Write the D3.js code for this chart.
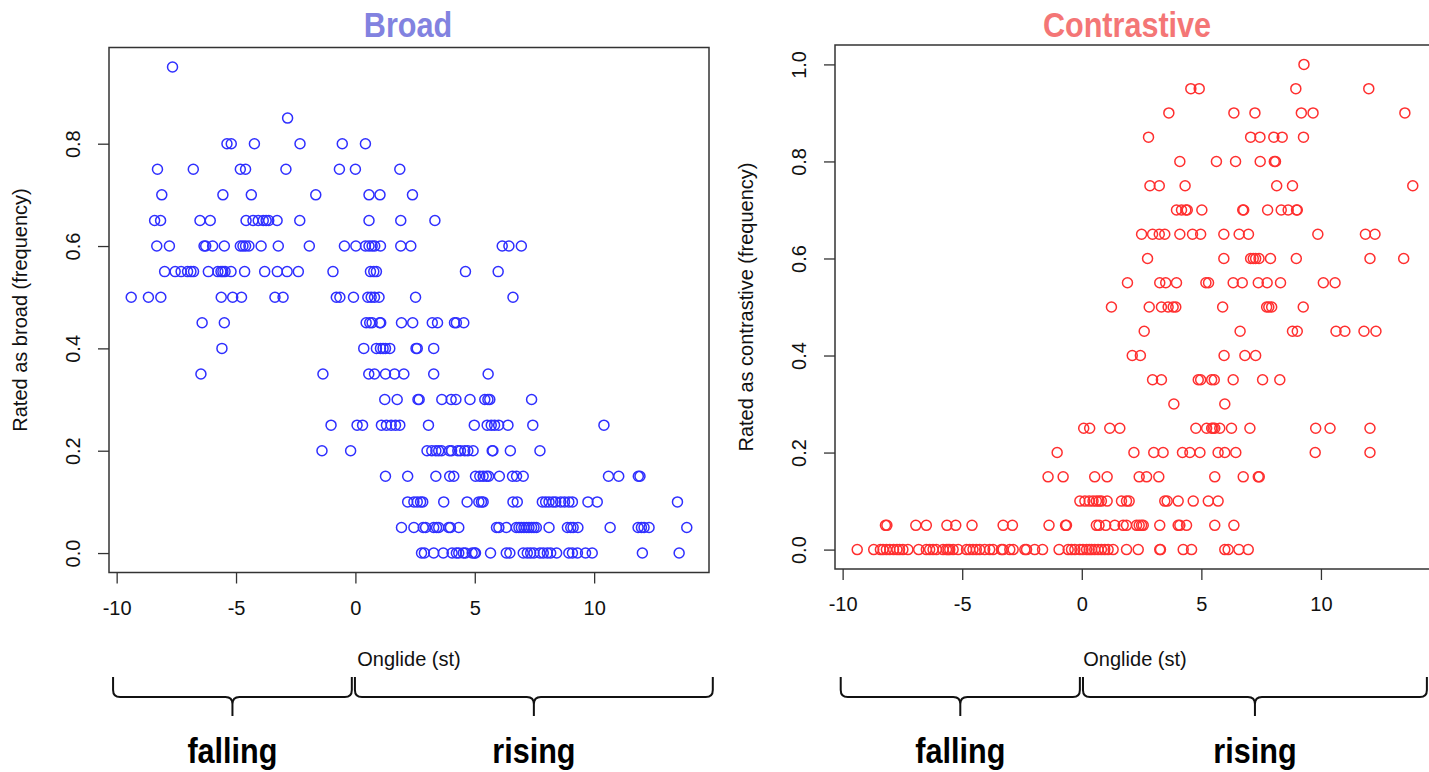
<!DOCTYPE html>
<html>
<head>
<meta charset="utf-8">
<script src="https://cdn.jsdelivr.net/npm/d3@7"></script>
<style>
  body { margin: 0; background: #fff; }
  svg { display: block; }
  text { font-family: "Liberation Sans", Arial, Helvetica, sans-serif; fill: #111; }
  .title, .brace-label {
    font-family: "Liberation Sans Narrow", "Arial Narrow", "Liberation Sans", sans-serif;
    font-weight: bold;
  }
</style>
</head>
<body>
<svg id="chart" width="1429" height="772"></svg>
<script>
// rating levels (frequency) and the onglide values (st) of the points sitting on each level
const broadLevels = [0.95, 0.85, 0.80, 0.75, 0.70, 0.65, 0.60, 0.55, 0.50, 0.45, 0.40, 0.35, 0.30, 0.25, 0.20, 0.15, 0.10, 0.05, 0.00];
const broadOnglide = [
  [-7.66],
  [-2.84],
  [-5.38, -5.20, -4.23, -2.32, -0.55, 0.42],
  [-8.29, -6.79, -4.82, -4.60, -2.91, -0.67, 0.00, 1.86],
  [-8.11, -5.55, -4.36, -1.66, 0.57, 1.03, 2.39],
  [-8.41, -8.16, -6.51, -6.08, -4.58, -4.29, -4.07, -3.86, -3.74, -3.63, -3.28, -2.33, 0.57, 1.90, 3.33],
  [-8.32, -7.79, -6.34, -6.27, -5.98, -5.49, -4.82, -4.71, -4.60, -4.46, -3.95, -3.23, -1.93, -0.46, 0.02,
   0.42, 0.57, 0.70, 0.81, 1.05, 1.90, 2.32, 6.15, 6.43, 6.95],
  [-7.99, -7.55, -7.30, -7.03, -6.89, -6.78, -6.16, -5.76, -5.63, -5.55, -5.46, -5.21, -4.64, -3.80, -3.27,
   -2.86, -2.39, -0.94, 0.63, 0.77, 0.88, 4.61, 5.98],
  [-9.39, -8.67, -8.15, -5.62, -5.14, -4.77, -3.37, -3.03, -0.80, -0.65, -0.08, 0.52, 0.66, 0.80, 0.99, 2.52, 6.60],
  [-6.42, -5.49, 0.45, 0.60, 0.70, 1.02, 1.06, 1.93, 2.40, 3.22, 3.44, 4.15, 4.23, 4.54],
  [-5.59, 0.35, 0.88, 1.05, 1.16, 1.26, 1.44, 2.54, 2.59, 3.28],
  [-6.47, -1.36, 0.56, 0.80, 1.26, 1.64, 2.03, 3.28, 5.56],
  [1.23, 1.75, 2.62, 2.67, 3.62, 4.01, 4.21, 4.80, 5.42, 5.55, 5.63, 7.38],
  [-1.02, 0.07, 0.30, 1.09, 1.30, 1.50, 1.68, 1.86, 3.06, 4.98, 5.52, 5.69, 5.83, 6.00, 6.39, 7.43, 10.41],
  [-1.40, -0.20, 3.00, 3.20, 3.37, 3.49, 3.61, 3.94, 4.03, 4.29, 4.40, 4.58, 4.71, 4.93, 5.73, 5.76, 6.49, 7.73],
  [1.26, 2.19, 3.37, 3.95, 4.12, 5.03, 5.21, 5.35, 5.49, 5.58, 6.03, 6.58, 6.75, 7.03, 10.60, 11.03, 11.85, 11.92],
  [2.19, 2.45, 2.59, 2.73, 2.82, 3.70, 4.68, 5.17, 5.28, 5.35, 6.60, 6.78, 7.83, 7.97, 8.11, 8.27, 8.39, 8.60,
   8.76, 8.94, 9.09, 9.74, 10.13, 13.49],
  [1.93, 2.45, 2.84, 2.94, 3.28, 3.40, 3.49, 3.91, 3.98, 4.33, 5.91, 6.01, 6.32, 6.74, 6.85, 6.95, 7.06, 7.17,
   7.27, 7.38, 7.48, 7.58, 8.11, 8.88, 9.02, 9.12, 9.32, 10.67, 11.84, 11.98, 12.09, 12.30, 13.88],
  [2.77, 2.89, 3.28, 3.68, 4.05, 4.23, 4.33, 4.52, 4.61, 4.89, 4.99, 5.03, 5.66, 6.32, 6.47, 7.03, 7.20, 7.34,
   7.48, 7.73, 7.87, 8.04, 8.18, 8.43, 8.94, 9.09, 9.30, 9.64, 9.92, 12.02, 13.56]
];

const contrLevels = [1.00, 0.95, 0.90, 0.85, 0.80, 0.75, 0.70, 0.65, 0.60, 0.55, 0.50, 0.45, 0.40, 0.35, 0.30, 0.25, 0.20, 0.15, 0.10, 0.05, 0.00];
const contrOnglide = [
  [9.29],
  [4.56, 4.91, 8.95, 12.00],
  [3.64, 6.36, 7.24, 9.18, 9.67, 13.51],
  [2.79, 7.06, 7.45, 8.03, 8.38, 9.27],
  [4.10, 5.63, 6.43, 7.46, 8.05, 8.10],
  [2.85, 3.24, 4.32, 8.15, 8.81, 13.84],
  [3.96, 4.17, 4.35, 4.41, 5.02, 6.73, 6.77, 7.77, 8.34, 8.63, 8.98, 9.01],
  [2.50, 2.96, 3.24, 3.47, 4.10, 4.63, 4.97, 5.94, 6.58, 6.97, 9.87, 11.86, 12.26],
  [2.75, 5.94, 7.06, 7.17, 7.27, 7.41, 7.89, 8.97, 12.05, 13.46],
  [1.91, 3.26, 3.51, 3.96, 5.19, 5.30, 6.33, 6.71, 7.38, 7.75, 8.31, 10.10, 10.59],
  [1.24, 2.82, 3.33, 3.61, 3.82, 3.93, 5.89, 7.73, 7.82, 7.94, 9.26],
  [2.61, 6.62, 8.81, 9.01, 10.63, 11.00, 11.80, 12.30],
  [2.11, 2.45, 5.95, 6.82, 7.27],
  [2.96, 3.33, 4.87, 4.97, 5.43, 5.54, 6.33, 7.56, 8.28],
  [3.85, 5.98],
  [0.08, 0.33, 1.17, 1.59, 4.77, 5.22, 5.43, 5.49, 5.56, 5.77, 6.26, 7.03, 9.78, 10.38, 12.05],
  [-1.03, 2.18, 3.01, 3.40, 4.21, 4.52, 4.94, 5.70, 5.98, 6.44, 9.76, 12.05],
  [-1.41, -0.78, 0.54, 1.06, 2.40, 2.71, 3.22, 5.56, 6.75, 7.38, 7.42],
  [-0.08, 0.13, 0.31, 0.47, 0.61, 0.72, 0.82, 1.06, 1.66, 1.87, 1.98, 3.47, 3.57, 4.03, 4.66, 5.29, 5.70],
  [-8.21, -8.15, -6.94, -6.50, -5.64, -5.27, -4.59, -3.29, -2.90, -1.37, -0.68, -0.64, 0.61, 0.72, 1.00, 1.38,
   1.73, 1.87, 2.29, 2.40, 2.50, 2.57, 3.26, 4.03, 4.10, 4.38, 5.56, 6.36],
  [-9.39, -8.70, -8.42, -8.31, -8.17, -8.03, -7.87, -7.73, -7.62, -7.48, -7.27, -6.82, -6.50, -6.36, -6.22,
   -6.08, -5.80, -5.66, -5.59, -5.52, -5.38, -5.17, -4.82, -4.69, -4.55, -4.41, -4.27, -4.06, -3.85, -3.71,
   -3.36, -3.29, -3.01, -2.87, -2.38, -2.31, -1.97, -1.64, -0.95, -0.57, -0.43, -0.29, -0.08, 0.05, 0.20,
   0.31, 0.41, 0.54, 0.68, 0.82, 0.96, 1.10, 1.31, 1.87, 2.36, 3.26, 3.29, 4.24, 4.59, 5.98, 6.12, 6.57, 6.96]
];

const xTicks = [-10, -5, 0, 5, 10];
const broadYTicks = [0, 0.2, 0.4, 0.6, 0.8];
const contrYTicks = [0, 0.2, 0.4, 0.6, 0.8, 1.0];

// the two braces under each panel (onglide units)
const braceLabels = ['falling', 'rising'];
const broadBraces = [[-10.15, -0.15], [-0.02, 14.97]];
const contrBraces = [[-10.08, -0.08], [0.05, 14.43]];

const svg = d3.select('#chart');
svg.append('rect').attr('width', 1429).attr('height', 772).attr('fill', '#fff');

const panels = [
  {
    title: 'Broad', titleColor: '#8282e0', titleX: 408,
    color: '#2f2fff', yLabel: 'Rated as broad (frequency)',
    levels: broadLevels, onglide: broadOnglide, yTicks: broadYTicks, braces: broadBraces,
    box: { left: 109, right: 709, top: 47.5, bottom: 572.5 }
  },
  {
    title: 'Contrastive', titleColor: '#f47676', titleX: 1127,
    color: '#ff2f2f', yLabel: 'Rated as contrastive (frequency)',
    levels: contrLevels, onglide: contrOnglide, yTicks: contrYTicks, braces: contrBraces,
    box: { left: 835, right: 1435, top: 45, bottom: 569 }
  }
];

// R style 4% padding around the data range
function padded(ext) {
  const d = (ext[1] - ext[0]) * 0.04;
  return [ext[0] - d, ext[1] + d];
}

// condensed bold text (no narrow face installed, so squeeze it horizontally)
function narrowText(sel, x, y, size, color, str) {
  sel.append('text')
    .attr('class', 'title')
    .attr('transform', `translate(${x},${y}) scale(0.85,1)`)
    .attr('text-anchor', 'middle')
    .style('font-size', size + 'px')
    .style('fill', color)
    .text(str);
}

panels.forEach(p => {
  const points = [];
  p.levels.forEach((lv, i) => {
    p.onglide[i].forEach(x => points.push({ x: x, y: lv }));
  });

  const { left, right, top, bottom } = p.box;
  const x = d3.scaleLinear().domain(padded(d3.extent(points, d => d.x))).range([left, right]);
  const y = d3.scaleLinear().domain(padded(d3.extent(points, d => d.y))).range([bottom, top]);

  const g = svg.append('g');

  // title
  narrowText(g, p.titleX, 37, 36, p.titleColor, p.title);

  // points
  g.append('g').selectAll('circle')
    .data(points)
    .enter()
    .append('circle')
    .attr('cx', d => x(d.x))
    .attr('cy', d => y(d.y))
    .attr('r', 5)
    .attr('fill', 'none')
    .attr('stroke', p.color)
    .attr('stroke-width', 1.5);

  // x axis
  const xAxis = g.append('g')
    .attr('transform', `translate(0,${bottom})`)
    .call(d3.axisBottom(x).tickValues(xTicks).tickSize(11).tickPadding(17).tickFormat(d => String(d)));
  xAxis.select('.domain').remove();
  xAxis.selectAll('line').attr('stroke', '#333').attr('stroke-width', 1.3);
  xAxis.selectAll('text').style('font-size', '20px').style('fill', '#111')
    .style('font-family', '"Liberation Sans", Arial, sans-serif');

  // y axis, labels rotated like R
  const yAxis = g.append('g')
    .attr('transform', `translate(${left},0)`)
    .call(d3.axisLeft(y).tickValues(p.yTicks).tickSize(11).tickFormat(d3.format('.1f')));
  yAxis.select('.domain').remove();
  yAxis.selectAll('line').attr('stroke', '#333').attr('stroke-width', 1.3);
  yAxis.selectAll('text')
    .attr('x', 0)
    .attr('y', -29)
    .attr('dy', null)
    .attr('transform', 'rotate(-90)')
    .attr('text-anchor', 'middle')
    .style('font-size', '20px').style('fill', '#111')
    .style('font-family', '"Liberation Sans", Arial, sans-serif');

  // box
  g.append('rect')
    .attr('x', left).attr('y', top)
    .attr('width', right - left).attr('height', bottom - top)
    .attr('fill', 'none')
    .attr('stroke', '#333')
    .attr('stroke-width', 1.5);

  // axis titles
  g.append('text')
    .attr('x', (left + right) / 2)
    .attr('y', 666)
    .attr('text-anchor', 'middle')
    .style('font-size', '20px')
    .text('Onglide (st)');

  g.append('text')
    .attr('transform', `translate(${left - 82},${(top + bottom) / 2}) rotate(-90)`)
    .attr('text-anchor', 'middle')
    .style('font-size', '20px')
    .text(p.yLabel);

  // braces + labels
  const y0 = 677, y1 = 697, y2 = 716, r = 7;
  p.braces.forEach((span, i) => {
    const x1 = x(span[0]), x2 = x(span[1]), xm = (x1 + x2) / 2;
    const path = d3.path();
    path.moveTo(x1, y0);
    path.lineTo(x1, y1 - r);
    path.quadraticCurveTo(x1, y1, x1 + r, y1);
    path.lineTo(xm - r, y1);
    path.quadraticCurveTo(xm, y1, xm, y1 + r);
    path.lineTo(xm, y2);
    path.moveTo(xm, y1 + r);
    path.quadraticCurveTo(xm, y1, xm + r, y1);
    path.lineTo(x2 - r, y1);
    path.quadraticCurveTo(x2, y1, x2, y1 - r);
    path.lineTo(x2, y0);
    g.append('path')
      .attr('d', path.toString())
      .attr('fill', 'none')
      .attr('stroke', '#111')
      .attr('stroke-width', 2);

    narrowText(g, xm, 763, 36, '#000', braceLabels[i]);
  });
});
</script>
</body>
</html>
